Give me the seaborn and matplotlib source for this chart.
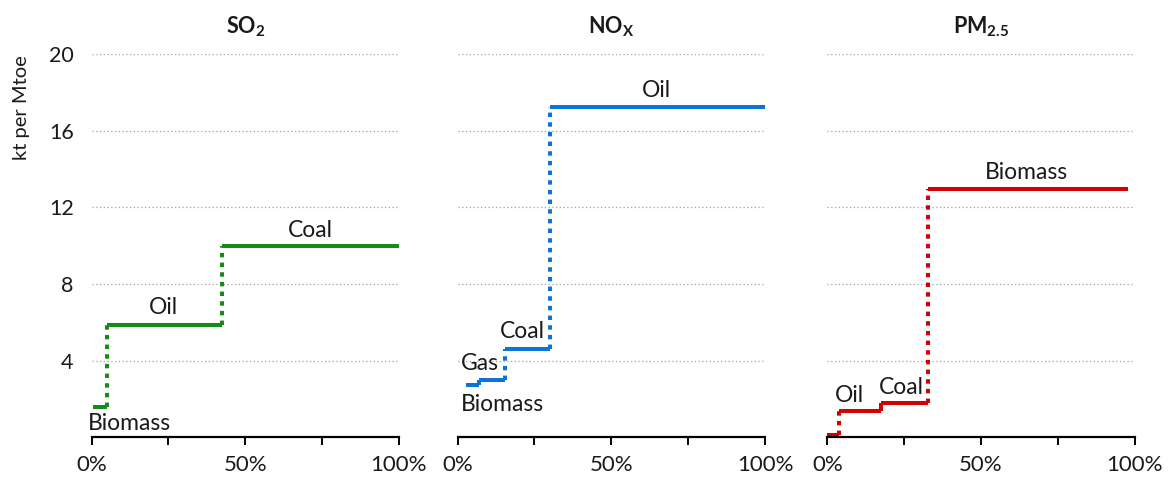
import matplotlib
matplotlib.use("Agg")
import matplotlib.pyplot as plt
import pandas as pd
import seaborn as sns

# Emission intensity of each fuel against its cumulative share of energy use
so2_fuels = ["Biomass", "Oil", "Coal"]
so2_start = [0.005, 0.049, 0.423]
so2_end = [0.049, 0.423, 1.0]
so2_value = [1.6, 5.85, 10.0]

nox_fuels = ["Biomass", "Gas", "Coal", "Oil"]
nox_start = [0.027, 0.070, 0.154, 0.299]
nox_end = [0.070, 0.154, 0.299, 1.0]
nox_value = [2.75, 3.0, 4.6, 17.25]

pm_fuels = ["Gas", "Oil", "Coal", "Biomass"]
pm_start = [0.0, 0.039, 0.174, 0.329]
pm_end = [0.039, 0.174, 0.329, 0.98]
pm_value = [0.15, 1.4, 1.8, 12.95]

titles = [r"$\mathbf{SO_2}$", r"$\mathbf{NO_X}$", r"$\mathbf{PM_{2.5}}$"]
y_ticks = [4, 8, 12, 16, 20]
x_ticks = [0, 0.25, 0.5, 0.75, 1.0]
x_tick_labels = ["0%", "", "50%", "", "100%"]
y_label = "kt per Mtoe"

# fuel labels: (text, x, y, horizontal alignment); None = segment left unlabelled
so2_labels = [("Biomass", -0.012, 0.7, "left"), ("Oil", 0.232, 6.8, "center"),
              ("Coal", 0.713, 10.8, "center")]
nox_labels = [("Biomass", 0.145, 1.7, "center"), ("Gas", 0.073, 3.85, "center"),
              ("Coal", 0.209, 5.5, "center"), ("Oil", 0.647, 18.1, "center")]
pm_labels = [None, ("Oil", 0.073, 2.2, "center"), ("Coal", 0.24, 2.6, "center"),
             ("Biomass", 0.647, 13.8, "center")]

panels = [
    (so2_fuels, so2_start, so2_end, so2_value, so2_labels, "#178A17"),
    (nox_fuels, nox_start, nox_end, nox_value, nox_labels, "#0B74D6"),
    (pm_fuels, pm_start, pm_end, pm_value, pm_labels, "#D20000"),
]

sns.set_style("white")
plt.rcParams["font.family"] = ["Lato", "DejaVu Sans"]
plt.rcParams["mathtext.fontset"] = "custom"
plt.rcParams["mathtext.rm"] = "Lato"
plt.rcParams["mathtext.bf"] = "Lato:bold"
plt.rcParams["mathtext.it"] = "Lato:italic"

fig = plt.figure(figsize=(11.72, 4.84), dpi=100)
lefts = [0.0782, 0.3905, 0.7059]
width = 0.2622
bottom, height = 0.0963, 0.792

LW = 2.9
for i, (fuels, starts, ends, values, labels, color) in enumerate(panels):
    ax = fig.add_axes([lefts[i], bottom, width, height])

    # horizontal steps, one per fuel
    seg = pd.DataFrame({
        "share": [v for s, e in zip(starts, ends) for v in (s, e)],
        "intensity": [v for v in values for _ in (0, 1)],
        "fuel": [f for f in fuels for _ in (0, 1)],
    })
    sns.lineplot(data=seg, x="share", y="intensity", units="fuel",
                 estimator=None, color=color, lw=LW, sort=False, ax=ax,
                 solid_capstyle="butt", legend=False)

    # vertical risers between consecutive fuels
    for j in range(len(fuels) - 1):
        riser = pd.DataFrame({"share": [ends[j], ends[j]],
                              "intensity": [values[j], values[j + 1]]})
        big = abs(values[j + 1] - values[j]) > 1
        sns.lineplot(data=riser, x="share", y="intensity", estimator=None,
                     color=color, lw=LW, sort=False, ax=ax,
                     linestyle=(0, (1.1, 1.3)) if big else "-",
                     solid_capstyle="butt", dash_capstyle="butt")

    for lab in labels:
        if lab is None:
            continue
        txt, lx, ly, ha = lab
        ax.text(lx, ly, txt, ha=ha, va="center", fontsize=16.5, color="#1a1a1a")

    ax.set_xlim(0, 1)
    ax.set_ylim(0, 20)
    ax.set_xticks(x_ticks)
    ax.set_xticklabels(x_tick_labels)
    ax.set_yticks(y_ticks)
    ax.set_xlabel("")
    ax.set_ylabel("")
    ax.yaxis.grid(True, linestyle=(0, (1, 2)), color="#a0a0a0", lw=0.9)
    ax.xaxis.grid(False)
    for side in ("left", "top", "right"):
        ax.spines[side].set_visible(False)
    ax.spines["bottom"].set_color("black")
    ax.spines["bottom"].set_linewidth(1.6)
    ax.tick_params(axis="x", bottom=True, direction="out", length=6, width=1.4,
                   color="black", labelsize=16, pad=7, labelcolor="#1a1a1a")
    ax.tick_params(axis="y", left=False, length=0, labelsize=15.5, pad=13,
                   labelleft=(i == 0), labelcolor="#1a1a1a")
    ax.set_title(titles[i], fontsize=15.5, pad=15, color="#1a1a1a")

fig.text(0.018, 0.778, y_label, rotation=90, ha="center", va="center",
         fontsize=14.5, color="#1a1a1a")

fig.savefig("out.png", dpi=100)
